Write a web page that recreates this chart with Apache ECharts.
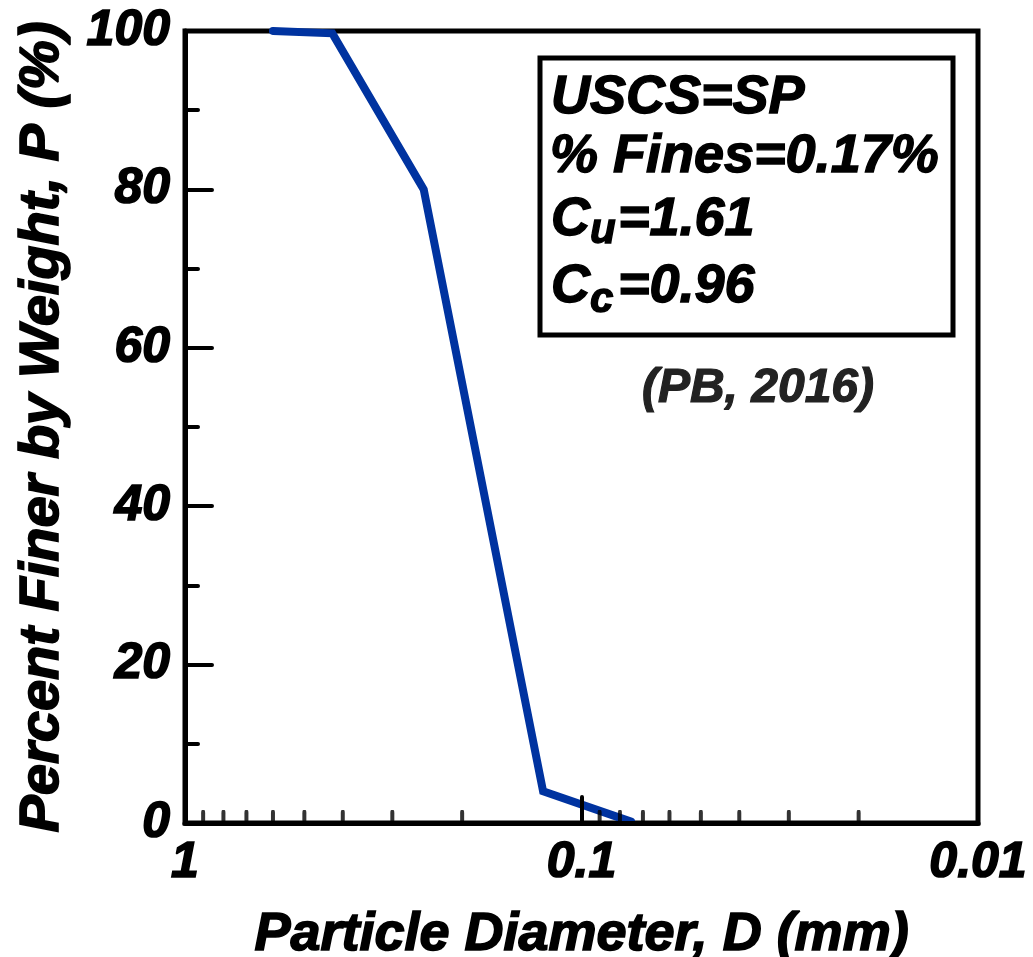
<!DOCTYPE html>
<html>
<head>
<meta charset="utf-8">
<title>Grain size distribution</title>
<script src="https://cdn.jsdelivr.net/npm/echarts@6/dist/echarts.min.js"></script>
<style>
  html, body { margin: 0; padding: 0; background: #fff; }
  #chart { width: 1033px; height: 957px; }
</style>
</head>
<body>
<div id="chart"></div>
<script>
  // sieve results
  var sieveSize = [0.6, 0.425, 0.25, 0.125, 0.075];
  var percentFiner = [100, 99.7, 80, 4, 0.17];
  // minor tick positions on the log axis
  var minorTicks = [0.9, 0.8, 0.7, 0.6, 0.5, 0.4, 0.3, 0.2,
                    0.09, 0.08, 0.07, 0.06, 0.05, 0.04, 0.03, 0.02];
  var infoLines = ['USCS=SP', '% Fines=0.17%'];
  var cuText = ['C', 'u', '=1.61'];
  var ccText = ['C', 'c', '=0.96'];
  var sourceText = '(PB, 2016)';

  var font = 'Arial, "Liberation Sans", sans-serif';
  var bi = function (size) { return 'italic bold ' + size + 'px ' + font; };
  // heavy black text, a thin outline makes Liberation bold look like the original
  var heavy = function (size) {
    return { color: '#000', fontSize: size, fontWeight: 'bold', fontStyle: 'italic', fontFamily: font,
             textBorderColor: '#000', textBorderWidth: 1.6 };
  };

  var curve = sieveSize.map(function (d, i) { return [d, percentFiner[i]]; });
  var minorData = minorTicks.map(function (d) { return [d, 0]; });

  var myChart = echarts.init(document.getElementById('chart'));

  var boxText = function (text, x, y, size, fill) {
    return { type: 'text', x: x, y: y, z: 11,
      style: { text: text, font: bi(size), fill: fill || '#000', stroke: fill || '#000', lineWidth: 1.4,
               verticalAlign: 'middle' } };
  };

  var option = {
    animation: false,
    backgroundColor: '#fff',
    grid: {
      left: 185, right: 55, top: 31, bottom: 134,
      outerBoundsMode: 'none',
      containLabel: false,
      show: true, borderColor: '#000', borderWidth: 5, backgroundColor: 'transparent'
    },
    xAxis: {
      type: 'log',
      logBase: 10,
      min: 0.01,
      max: 1,
      inverse: true,
      z: 5,
      name: 'Particle Diameter, D (mm)',
      nameLocation: 'middle',
      nameGap: 85,
      nameTextStyle: heavy(54),
      axisLine: { lineStyle: { color: '#000', width: 5 } },
      axisTick: { inside: true, length: 26, lineStyle: { color: '#000', width: 4, cap: 'round' } },
      splitLine: { show: false },
      axisLabel: Object.assign(heavy(50), {
        margin: 15,
        formatter: function (v) { return String(+v.toPrecision(3)); }
      })
    },
    yAxis: {
      type: 'value',
      min: 0,
      max: 100,
      interval: 20,
      z: 5,
      name: 'Percent Finer by Weight, P (%)',
      nameLocation: 'middle',
      nameGap: 114,
      nameTextStyle: heavy(56),
      axisLine: { show: true, lineStyle: { color: '#000', width: 5 } },
      axisTick: { show: true, inside: true, length: 27, lineStyle: { color: '#000', width: 4, cap: 'round' } },
      minorTick: { show: true, splitNumber: 2, length: 13, lineStyle: { color: '#000', width: 4, cap: 'round' } },
      splitLine: { show: false },
      axisLabel: Object.assign(heavy(50), { margin: 15 })
    },
    series: [
      {
        type: 'line',
        data: curve,
        showSymbol: false,
        clip: false,
        z: 3,
        lineStyle: { color: '#0033A0', width: 8, cap: 'round', join: 'miter' }
      },
      {
        type: 'scatter',
        data: minorData,
        symbol: 'roundRect',
        symbolSize: [4, 13],
        symbolOffset: [0, '-50%'],
        itemStyle: { color: '#000' },
        clip: false,
        silent: true,
        z: 6
      }
    ],
    graphic: [
      { type: 'rect', shape: { x: 540, y: 58, width: 413, height: 277 },
        style: { fill: '#fff', stroke: '#000', lineWidth: 5 }, z: 10 },
      boxText(infoLines[0], 551, 98, 54),
      boxText(infoLines[1], 550, 157, 54),
      boxText(cuText[0], 551, 220, 54),
      boxText(cuText[1], 590, 231, 42),
      boxText(cuText[2], 618, 220, 54),
      boxText(ccText[0], 551, 287, 54),
      boxText(ccText[1], 590, 300, 42),
      boxText(ccText[2], 618, 287, 54),
      { type: 'text', x: 758, y: 389, z: 11,
        style: { text: sourceText, font: bi(48), fill: '#222', stroke: '#222', lineWidth: 1.2,
                 align: 'center', verticalAlign: 'middle' } }
    ]
  };

  myChart.setOption(option);
</script>
</body>
</html>
